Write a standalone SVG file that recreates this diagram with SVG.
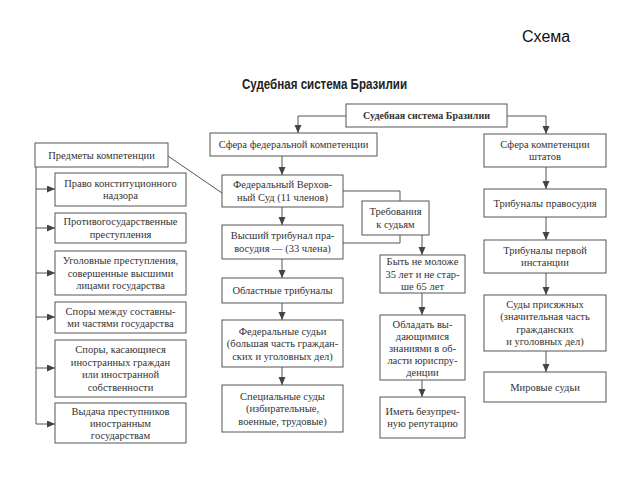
<svg xmlns="http://www.w3.org/2000/svg" width="640" height="480" viewBox="0 0 640 480">
<style>
.b{fill:#fff;stroke:#555;stroke-width:1}
.t{font-family:"Liberation Serif","Times New Roman",serif;font-size:10.5px;fill:#333;text-anchor:middle}
.c{fill:none;stroke:#555;stroke-width:1}
</style>
<defs>
<marker id="a" markerUnits="userSpaceOnUse" markerWidth="8" markerHeight="8" refX="8" refY="3.5" orient="auto">
<path d="M0,0 L8,3.5 L0,7 z" fill="#444"/>
</marker>
</defs>
<rect width="640" height="480" fill="#fff"/>
<text x="522" y="42" style="font-family:'Liberation Sans',Arial,sans-serif;font-size:16px;fill:#111">Схема</text>
<text x="242" y="89" textLength="165" lengthAdjust="spacingAndGlyphs" style="font-family:'Liberation Sans',Arial,sans-serif;font-size:15px;font-weight:bold;fill:#222">Судебная система Бразилии</text>

<g id="connectors">
<path class="c" d="M346,116 H298 V133" marker-end="url(#a)"/>
<path class="c" d="M507,116 H546 V134" marker-end="url(#a)"/>
<path class="c" d="M282,156 V175" marker-end="url(#a)"/>
<path class="c" d="M282,207 V225" marker-end="url(#a)"/>
<path class="c" d="M282,259 V278" marker-end="url(#a)"/>
<path class="c" d="M282,303 V320" marker-end="url(#a)"/>
<path class="c" d="M282,367 V385" marker-end="url(#a)"/>
<path class="c" d="M546,167 V189" marker-end="url(#a)"/>
<path class="c" d="M546,217 V240" marker-end="url(#a)"/>
<path class="c" d="M546,273 V295" marker-end="url(#a)"/>
<path class="c" d="M546,351 V372" marker-end="url(#a)"/>
<path class="c" d="M343,191 H400 V201"/>
<path class="c" d="M343,243 H400 V235"/>
<path class="c" d="M422,235 V255" marker-end="url(#a)"/>
<path class="c" d="M422,293 V315" marker-end="url(#a)"/>
<path class="c" d="M422,380 V397" marker-end="url(#a)"/>
<path class="c" d="M168,156 L222,193"/>
<path class="c" d="M36,167 V424 H55" marker-end="url(#a)"/>
<path class="c" d="M36,189 H55" marker-end="url(#a)"/>
<path class="c" d="M36,228 H55" marker-end="url(#a)"/>
<path class="c" d="M36,273 H55" marker-end="url(#a)"/>
<path class="c" d="M36,317 H55" marker-end="url(#a)"/>
<path class="c" d="M36,368 H55" marker-end="url(#a)"/>
</g>

<g id="root"><rect class="b" x="346" y="104" width="161" height="23"/><text class="t" x="426.5" y="119" style="font-weight:bold;font-size:10px">Судебная система Бразилии</text></g>

<g id="predmety"><rect class="b" x="35" y="143" width="133" height="24"/><text class="t" x="101.5" y="158.5">Предметы компетенции</text></g>
<g id="pravo"><rect class="b" x="55" y="173" width="131" height="33"/><text class="t" x="120.5" y="186.5">Право конституционного</text><text class="t" x="120.5" y="199">надзора</text></g>
<g id="protiv"><rect class="b" x="55" y="213" width="131" height="30"/><text class="t" x="120.5" y="225">Противогосударственные</text><text class="t" x="120.5" y="237.5">преступления</text></g>
<g id="ugol"><rect class="b" x="55" y="251" width="131" height="44"/><text class="t" x="120.5" y="264">Уголовные преступления,</text><text class="t" x="120.5" y="276.5">совершенные высшими</text><text class="t" x="120.5" y="289">лицами государства</text></g>
<g id="spory1"><rect class="b" x="55" y="302" width="131" height="31"/><text class="t" x="120.5" y="314.5">Споры между составны-</text><text class="t" x="120.5" y="327">ми частями государства</text></g>
<g id="spory2"><rect class="b" x="55" y="340" width="131" height="57"/><text class="t" x="120.5" y="353">Споры, касающиеся</text><text class="t" x="120.5" y="365.5">иностранных граждан</text><text class="t" x="120.5" y="378">или иностранной</text><text class="t" x="120.5" y="390.5">собственности</text></g>
<g id="vydacha"><rect class="b" x="55" y="403" width="131" height="40"/><text class="t" x="120.5" y="415">Выдача преступников</text><text class="t" x="120.5" y="427">иностранным</text><text class="t" x="120.5" y="439">государствам</text></g>

<g id="fed"><rect class="b" x="210" y="133" width="167" height="23"/><text class="t" x="293.5" y="148">Сфера федеральной компетенции</text></g>
<g id="verh"><rect class="b" x="222" y="175" width="121" height="32"/><text class="t" x="282.5" y="188">Федеральный Верхов-</text><text class="t" x="282.5" y="200.5">ный Суд  (11 членов)</text></g>
<g id="vysh"><rect class="b" x="222" y="225" width="121" height="34"/><text class="t" x="282.5" y="239">Высший трибунал пра-</text><text class="t" x="282.5" y="251.5">восудия — (33 члена)</text></g>
<g id="obl"><rect class="b" x="222" y="278" width="121" height="25"/><text class="t" x="282.5" y="294">Областные трибуналы</text></g>
<g id="fedsud"><rect class="b" x="222" y="320" width="121" height="47"/><text class="t" x="282.5" y="334.5">Федеральные судьи</text><text class="t" x="282.5" y="347">(большая часть граждан-</text><text class="t" x="282.5" y="359.5">ских и уголовных дел)</text></g>
<g id="spec"><rect class="b" x="222" y="385" width="121" height="47"/><text class="t" x="282.5" y="399.5">Специальные суды</text><text class="t" x="282.5" y="412">(избирательные,</text><text class="t" x="282.5" y="424.5">военные, трудовые)</text></g>

<g id="treb"><rect class="b" x="362" y="201" width="67" height="34"/><text class="t" x="395.5" y="215">Требования</text><text class="t" x="395.5" y="227.5">к судьям</text></g>
<g id="byt"><rect class="b" x="380" y="255" width="85" height="38"/><text class="t" x="422.5" y="265">Быть не моложе</text><text class="t" x="422.5" y="277.5">35 лет и не стар-</text><text class="t" x="422.5" y="290">ше 65 лет</text></g>
<g id="obladat"><rect class="b" x="380" y="315" width="85" height="65"/><text class="t" x="422.5" y="328">Обладать вы-</text><text class="t" x="422.5" y="340">дающимися</text><text class="t" x="422.5" y="352">знаниями в об-</text><text class="t" x="422.5" y="364">ласти юриспру-</text><text class="t" x="422.5" y="376">денции</text></g>
<g id="imet"><rect class="b" x="380" y="397" width="85" height="41"/><text class="t" x="422.5" y="414.5">Иметь безупреч-</text><text class="t" x="422.5" y="427">ную репутацию</text></g>

<g id="shtaty"><rect class="b" x="484" y="134" width="122" height="33"/><text class="t" x="545" y="147.5">Сфера компетенции</text><text class="t" x="545" y="160">штатов</text></g>
<g id="pravosud"><rect class="b" x="484" y="189" width="122" height="28"/><text class="t" x="545" y="206.5">Трибуналы правосудия</text></g>
<g id="pervoi"><rect class="b" x="484" y="240" width="122" height="33"/><text class="t" x="545" y="253.5">Трибуналы первой</text><text class="t" x="545" y="266">инстанции</text></g>
<g id="prisyazh"><rect class="b" x="484" y="295" width="122" height="56"/><text class="t" x="545" y="307.5">Суды присяжных</text><text class="t" x="545" y="320">(значительная часть</text><text class="t" x="545" y="332.5">гражданских</text><text class="t" x="545" y="345">и уголовных дел)</text></g>
<g id="mirovye"><rect class="b" x="484" y="372" width="122" height="30"/><text class="t" x="545" y="390.5">Мировые судьи</text></g>
</svg>
